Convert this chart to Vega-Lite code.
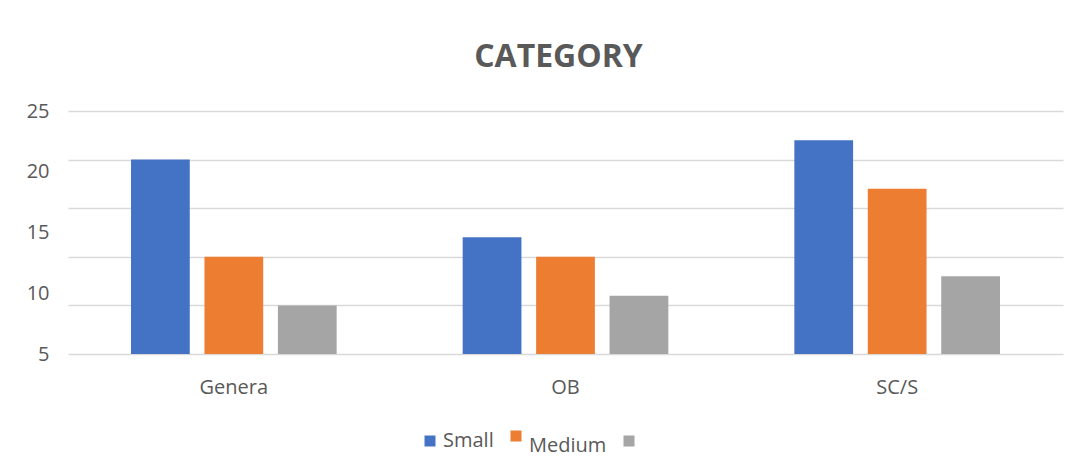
{
  "$schema": "https://vega.github.io/schema/vega-lite/v6.json",
  "width": 995,
  "height": 243,
  "autosize": {"type": "none"},
  "padding": {"left": 68, "top": 111, "right": 18, "bottom": 116},
  "background": "white",
  "config": {
    "view": {"stroke": null},
    "font": "Open Sans"
  },
  "title": {
    "text": "CATEGORY",
    "font": "Open Sans",
    "fontSize": 32,
    "fontWeight": "bold",
    "color": "#595959",
    "anchor": "middle",
    "baseline": "alphabetic",
    "offset": 2,
    "dx": -7
  },
  "data": {
    "values": [
      {"category": "Genera", "size": "Small", "value": 20},
      {"category": "Genera", "size": "Medium", "value": 10},
      {"category": "Genera", "size": "Large", "value": 5},
      {"category": "OB", "size": "Small", "value": 12},
      {"category": "OB", "size": "Medium", "value": 10},
      {"category": "OB", "size": "Large", "value": 6},
      {"category": "SC/S", "size": "Small", "value": 22},
      {"category": "SC/S", "size": "Medium", "value": 17},
      {"category": "SC/S", "size": "Large", "value": 8}
    ]
  },
  "encoding": {
    "x": {
      "field": "category",
      "type": "nominal",
      "sort": ["Genera", "OB", "SC/S"],
      "scale": {"paddingInner": 0.38, "paddingOuter": 0.19},
      "axis": {
        "title": null,
        "domain": false,
        "ticks": false,
        "labelAngle": 0,
        "labelFont": "Open Sans",
        "labelFontSize": 20,
        "labelColor": "#595959",
        "labelPadding": 23
      }
    },
    "xOffset": {
      "field": "size",
      "type": "nominal",
      "sort": ["Small", "Medium", "Large"],
      "scale": {"paddingInner": 0.2, "paddingOuter": 0}
    },
    "color": {
      "field": "size",
      "type": "nominal",
      "sort": ["Small", "Medium", "Large"],
      "scale": {"domain": ["Small", "Medium", "Large"], "range": ["#4472C4", "#ED7D31", "#A5A5A5"]},
      "legend": {
        "title": null,
        "orient": "none",
        "direction": "horizontal",
        "legendX": 352,
        "legendY": 315,
        "symbolType": "square",
        "symbolSize": 121,
        "symbolStrokeWidth": 0,
        "symbolOpacity": 1,
        "labelFont": "Open Sans",
        "labelFontSize": 20,
        "labelColor": "#595959",
        "labelOffset": 3,
        "columnPadding": 12,
        "labelExpr": "datum.label == 'Large' ? '' : datum.label",
        "encode": {
          "labels": {"update": {"dy": {"signal": "datum.label == 'Medium' ? 10 : 0"}}}
        }
      }
    }
  },
  "layer": [
    {
      "mark": {"type": "bar"},
      "encoding": {
        "y": {
          "field": "value",
          "type": "quantitative",
          "scale": {"domain": [0, 25], "nice": false},
          "axis": {
            "orient": "right",
            "title": null,
            "labels": false,
            "ticks": false,
            "domain": false,
            "grid": true,
            "values": [0, 5, 10, 15, 20, 25],
            "gridColor": "#D9D9D9",
            "gridWidth": 1.5
          }
        }
      }
    },
    {
      "mark": {"type": "bar", "opacity": 0, "clip": true},
      "encoding": {
        "y": {
          "field": "value",
          "type": "quantitative",
          "scale": {"domain": [5, 25], "nice": false, "zero": false},
          "axis": {
            "orient": "left",
            "title": null,
            "grid": false,
            "ticks": false,
            "domain": false,
            "values": [5, 10, 15, 20, 25],
            "labelFont": "Open Sans",
            "labelFontSize": 20,
            "labelColor": "#595959",
            "labelPadding": 19
          }
        }
      }
    }
  ],
  "resolve": {"scale": {"y": "independent"}, "axis": {"y": "independent"}}
}
